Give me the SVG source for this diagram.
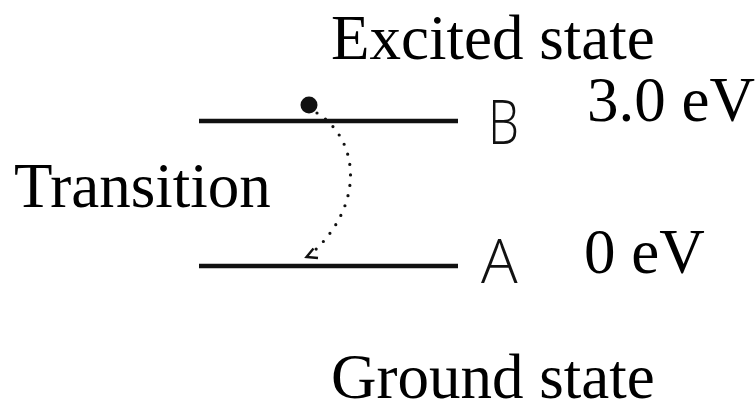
<svg xmlns="http://www.w3.org/2000/svg" width="755" height="404" viewBox="0 0 755 404">
<style>
.serif{font-family:"Liberation Serif","Times New Roman",serif;font-size:63px;fill:#000}
.sans{font-family:"Open Sans","DejaVu Sans",sans-serif;font-size:61px;font-weight:350;fill:#111}
.level{stroke:#111;stroke-width:4.5;fill:none}
.dots{stroke:#111;stroke-width:3.2;stroke-linecap:round;stroke-dasharray:0 10.5;fill:none}
.head{stroke:#111;stroke-width:2.4;fill:none;stroke-linejoin:miter}
</style>
<rect width="755" height="404" fill="#fff"/>
<g id="level-B">
<line class="level" x1="199" y1="121" x2="458" y2="121"/>
<text class="sans" x="488" y="144" textLength="31" lengthAdjust="spacingAndGlyphs">B</text>
</g>
<g id="level-A">
<line class="level" x1="199" y1="266" x2="458" y2="266"/>
<text class="sans" x="481" y="283">A</text>
</g>
<g id="electron">
<circle cx="309" cy="105" r="8.5" fill="#111"/>
</g>
<g id="connectors">
<path class="dots" d="M317,113 C360,140 365,205 312,253"/>
<path class="head" d="M313.5,248.5 L306.5,257 L318,258"/>
</g>
<g id="labels">
<text class="serif" x="331" y="59">Excited state</text>
<text class="serif" x="587" y="121">3.0 eV</text>
<text class="serif" x="14" y="207" font-size="64.5">Transition</text>
<text class="serif" x="584" y="273">0 eV</text>
<text class="serif" x="331" y="398">Ground state</text>
</g>
</svg>
